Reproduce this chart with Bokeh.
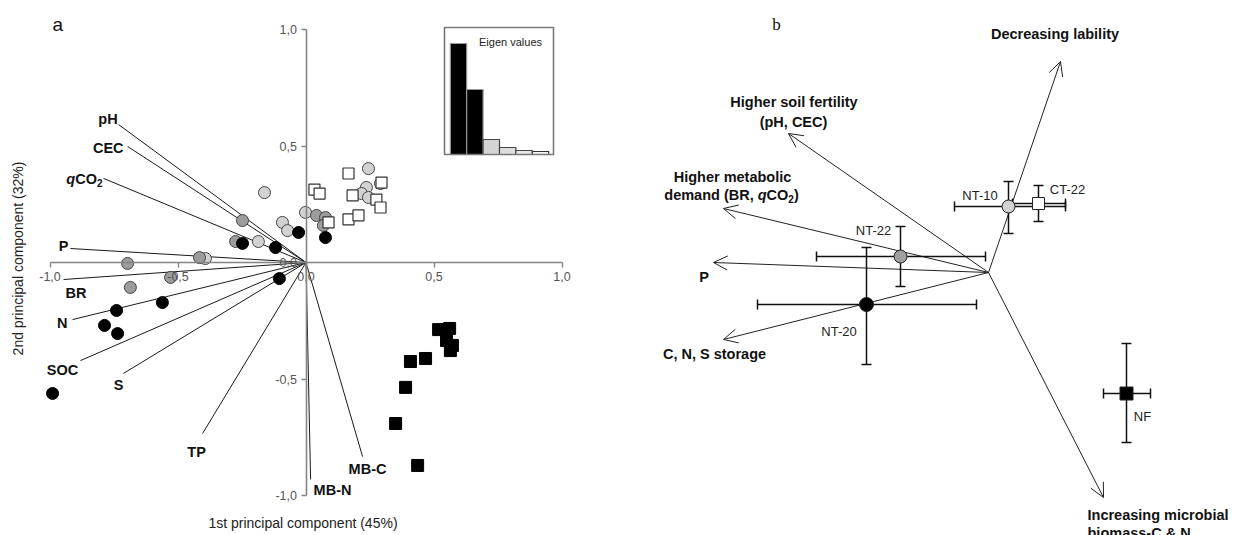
import math
from bokeh.plotting import figure
from bokeh.layouts import row
from bokeh.models import (Range1d, LinearAxis, FixedTicker, ColumnDataSource,
                          Arrow, OpenHead, Whisker, TeeHead)
from bokeh.core.properties import value
from bokeh.embed import file_html
from bokeh.resources import INLINE

# ---------------- Panel a data (PCA loadings and scores) ----------------
vec_names = ["pH", "CEC", "qCO2", "P", "BR", "N", "SOC", "S", "TP", "MB-N", "MB-C"]
vec_x = [-0.732, -0.697, -0.791, -0.920, -0.947, -0.912, -0.881, -0.713, -0.404, 0.018, 0.221]
vec_y = [0.592, 0.498, 0.361, 0.060, -0.073, -0.245, -0.421, -0.476, -0.734, -0.931, -0.833]

black_circ_x = [-0.990, -0.740, -0.787, -0.736, -0.561, -0.104, -0.119, -0.248, -0.029, 0.076]
black_circ_y = [-0.562, -0.206, -0.270, -0.305, -0.172, -0.069, 0.064, 0.082, 0.129, 0.107]

gray_circ_x = [-0.697, -0.686, -0.529, -0.416, -0.248, -0.275, 0.041, 0.076, 0.068]
gray_circ_y = [-0.004, -0.107, -0.064, 0.021, 0.180, 0.090, 0.202, 0.193, 0.159]

light_circ_x = [-0.162, -0.092, -0.072, -0.186, -0.002, -0.393, 0.244, 0.236, 0.217, 0.244, 0.291]
light_circ_y = [0.300, 0.172, 0.137, 0.090, 0.215, 0.017, 0.403, 0.322, 0.296, 0.279, 0.339]

white_sq_x = [0.166, 0.033, 0.053, 0.182, 0.295, 0.275, 0.291, 0.166, 0.205, 0.088]
white_sq_y = [0.382, 0.313, 0.296, 0.288, 0.343, 0.270, 0.236, 0.185, 0.202, 0.172]

black_sq_x = [0.518, 0.561, 0.549, 0.572, 0.564, 0.408, 0.467, 0.389, 0.350, 0.436]
black_sq_y = [-0.288, -0.283, -0.335, -0.356, -0.378, -0.425, -0.412, -0.536, -0.691, -0.871]

eig_index = [1, 2, 3, 4, 5, 6]
eig_values = [5.55, 3.25, 0.75, 0.35, 0.20, 0.15]

tick_vals = [-1.0, -0.5, 0.0, 0.5, 1.0]
tick_labels = ["-1,0", "-0,5", "0,0", "0,5", "1,0"]

# ---------------- Panel b data ----------------
arrow_names = ["Decreasing lability", "Increasing microbial", "Higher soil fertility",
               "Higher metabolic", "P", "C, N, S storage"]
arrow_x = [0.360, 0.575, -1.000, -1.325, -1.375, -1.325]
arrow_y = [1.055, -1.125, 0.695, 0.320, 0.050, -0.335]

treat_names = ["NT-22", "NT-20", "NT-10", "CT-22", "NF"]
treat_x = [-0.44, -0.61, 0.10, 0.25, 0.69]
treat_y = [0.08, -0.16, 0.33, 0.345, -0.605]
treat_xlo = [-0.86, -1.155, -0.17, 0.12, 0.575]
treat_xhi = [-0.015, -0.06, 0.385, 0.385, 0.81]
treat_ylo = [-0.07, -0.46, 0.195, 0.255, -0.85]
treat_yhi = [0.23, 0.125, 0.455, 0.435, -0.355]

# ---------------- styling / layout ----------------
FONT = "Liberation Sans"
INK = "#111111"
H = 535
A_W = 648
B_W = 591
PAGE0 = 0
# panel a mapping (page pixels)
AX0, AY0, ASX, ASY = 305.5, 262.0, 256.0, 233.0
# panel b mapping
BX0, BY0, BS = 988.0, 272.0, 200.0

BOLD_W = {' ': 278, '(': 333, ')': 333, ',': 278, 'B': 722, 'R': 722, 'C': 722,
          'O': 778, 'a': 556, 'd': 611, 'e': 556, 'm': 889, 'n': 611, 'q': 611, '2': 556}


def text_width(s, size):
    return sum(BOLD_W.get(c, 556) for c in s) * size / 1000.0


def draw_runs(p, x, y, x_off, y_off, runs):
    off = x_off
    for t, style, size, dy in runs:
        p.text(x=[x], y=[y], text=[t], x_offset=off, y_offset=y_off + dy,
               text_align="left", text_baseline="middle", text_font=value(FONT),
               text_font_style=style, text_font_size=f"{size}px", text_color=INK)
        off += text_width(t, size)


# ================= Panel a =================
pa = figure(width=A_W, height=H, title=None,
            x_range=Range1d((PAGE0 - AX0) / ASX, (PAGE0 + A_W - AX0) / ASX),
            y_range=Range1d((AY0 - (PAGE0 + H)) / ASY, (AY0 - PAGE0) / ASY),
            x_axis_type=None, y_axis_type=None, toolbar_location=None,
            output_backend="svg", min_border=0, outline_line_color=None)
pa.grid.visible = False

overrides = {v: l for v, l in zip(tick_vals, tick_labels)}
for side, loc in (("below", 0), ("left", 0)):
    ax = LinearAxis(fixed_location=loc, bounds=(-1, 1),
                    ticker=FixedTicker(ticks=tick_vals, minor_ticks=[]),
                    major_label_overrides=overrides,
                    axis_line_color="#858585", axis_line_width=1.6,
                    major_tick_line_color="#858585", major_tick_line_width=1.4,
                    major_tick_out=5, major_tick_in=0, minor_tick_out=0,
                    major_label_standoff=4,
                    major_label_text_font=FONT, major_label_text_font_size="12.5px",
                    major_label_text_color="#555555")
    pa.add_layout(ax, side)

# loading vectors
pa.segment(x0=[0] * len(vec_x), y0=[0] * len(vec_y), x1=vec_x, y1=vec_y,
           line_color="#1a1a1a", line_width=1)

# scores
pa.scatter(light_circ_x, light_circ_y, marker="circle", size=12,
           fill_color="#d2d2d2", line_color="#444444", line_width=1)
pa.scatter(gray_circ_x, gray_circ_y, marker="circle", size=12,
           fill_color="#9c9c9c", line_color="#444444", line_width=1)
pa.scatter(white_sq_x, white_sq_y, marker="square", size=11,
           fill_color="white", line_color="#333333", line_width=1.2)
pa.scatter(black_circ_x, black_circ_y, marker="circle", size=12,
           fill_color="black", line_color="black")
pa.scatter(black_sq_x, black_sq_y, marker="square", size=12,
           fill_color="black", line_color="black")

# vector labels
lab_dx = [-1, -4, -37.2, -2, 2, -5, -18, -5, -6, 3, -14]
lab_dy = [-6, 2, 1, -3, 13, 3, 9, 12, 18, 11, 12]
lab_align = ["right", "right", "left", "right", "left", "right", "center",
             "center", "center", "left", "left"]
for name, x, y, dx, dy, al in zip(vec_names, vec_x, vec_y, lab_dx, lab_dy, lab_align):
    if name == "qCO2":
        draw_runs(pa, x, y, dx, dy, [("q", "bold italic", 14.5, 0),
                                     ("CO", "bold", 14.5, 0),
                                     ("2", "bold", 10, 4)])
    else:
        pa.text(x=[x], y=[y], text=[name], x_offset=dx, y_offset=dy,
                text_align=al, text_baseline="middle", text_font=value(FONT),
                text_font_style="bold", text_font_size="14.5px", text_color=INK)

# axis titles and panel letter
pa.text(x=[(302.5 - AX0) / ASX], y=[(AY0 - 522) / ASY], text=["1st principal component (45%)"],
        text_align="center", text_baseline="middle", text_font=value(FONT),
        text_font_size="14px", text_color="#222222")
pa.text(x=[(17 - AX0) / ASX], y=[(AY0 - 258) / ASY], text=["2nd principal component (32%)"],
        angle=math.pi / 2, text_align="center", text_baseline="middle",
        text_font=value(FONT), text_font_size="14px", text_color="#222222")
pa.text(x=[(52 - AX0) / ASX], y=[(AY0 - 24) / ASY], text=["a"], text_align="left",
        text_baseline="alphabetic", text_font=value(FONT), text_font_size="19px",
        text_color=INK)

# inset of eigen values (own scales)
BAR_C0, BAR_W, BASE_Y, UNIT_Y = 458.0, 16.4, 154.0, 20.0
pa.extra_x_ranges = {"ins": Range1d(1 + (PAGE0 - BAR_C0) / BAR_W,
                                    1 + (PAGE0 + A_W - BAR_C0) / BAR_W)}
pa.extra_y_ranges = {"ins": Range1d((BASE_Y - (PAGE0 + H)) / UNIT_Y,
                                    (BASE_Y - PAGE0) / UNIT_Y)}
bar_fill = ["#000000", "#000000", "#d4d4d4", "#dedede", "#e8e8e8", "#f6f6f6"]
bar_line = ["#9a9a9a", "#9a9a9a", "#444444", "#444444", "#444444", "#333333"]
pa.quad(left=[i - 0.5 for i in eig_index], right=[i + 0.5 for i in eig_index],
        bottom=[0] * len(eig_values), top=eig_values, fill_color=bar_fill,
        line_color=bar_line, line_width=1.2, x_range_name="ins", y_range_name="ins")
pa.quad(left=[1 + (444 - BAR_C0) / BAR_W], right=[1 + (553 - BAR_C0) / BAR_W],
        bottom=[0], top=[(BASE_Y - 27) / UNIT_Y], fill_color=None,
        line_color="#777777", line_width=1.6, x_range_name="ins", y_range_name="ins")
pa.text(x=[1 + (510 - BAR_C0) / BAR_W], y=[(BASE_Y - 41) / UNIT_Y], text=["Eigen values"],
        text_align="center", text_baseline="middle", text_font=value(FONT),
        text_font_size="11px", text_color="#222222", x_range_name="ins", y_range_name="ins")

# ================= Panel b =================
b_left = PAGE0 + A_W
pb = figure(width=B_W, height=H, title=None,
            x_range=Range1d((b_left - BX0) / BS, (b_left + B_W - BX0) / BS),
            y_range=Range1d((BY0 - (PAGE0 + H)) / BS, (BY0 - PAGE0) / BS),
            x_axis_type=None, y_axis_type=None, toolbar_location=None,
            output_backend="svg", min_border=0, outline_line_color=None)
pb.grid.visible = False

asrc = ColumnDataSource(dict(x0=[0.0] * len(arrow_x), y0=[0.0] * len(arrow_y),
                             x1=arrow_x, y1=arrow_y))
pb.add_layout(Arrow(source=asrc, x_start="x0", y_start="y0", x_end="x1", y_end="y1",
                    line_color="#222222", line_width=1, level="underlay",
                    end=OpenHead(size=14, line_width=1, line_color="#222222")))

tsrc = ColumnDataSource(dict(x=treat_x, y=treat_y, xlo=treat_xlo, xhi=treat_xhi,
                             ylo=treat_ylo, yhi=treat_yhi))
for base, lo, hi, dim in (("y", "xlo", "xhi", "width"), ("x", "ylo", "yhi", "height")):
    pb.add_layout(Whisker(source=tsrc, base=base, lower=lo, upper=hi, dimension=dim,
                          line_color="#111111", line_width=1.5, level="underlay",
                          lower_head=TeeHead(size=10, line_width=1.5, line_color="#111111"),
                          upper_head=TeeHead(size=10, line_width=1.5, line_color="#111111")))

t_marker = ["circle", "circle", "circle", "square", "square"]
t_fill = ["#a0a0a0", "#000000", "#d2d2d2", "#ffffff", "#000000"]
t_size = [13, 14, 13, 12, 13]
msrc = ColumnDataSource(dict(x=treat_x, y=treat_y, m=t_marker, f=t_fill, s=t_size))
pb.scatter(x="x", y="y", marker="m", fill_color="f", size="s", source=msrc,
           line_color="#222222", line_width=1)

t_dx = [-27, -27.5, -28.5, 29, 16]
t_dy = [-26, 26.5, -11, -14.5, 22.5]
for name, x, y, dx, dy in zip(treat_names, treat_x, treat_y, t_dx, t_dy):
    pb.text(x=[x], y=[y], text=[name], x_offset=dx, y_offset=dy, text_align="center",
            text_baseline="middle", text_font=value(FONT), text_font_size="13px",
            text_color="#222222")

# arrow labels
def blab(x, y, dx, dy, txt, align="center"):
    pb.text(x=[x], y=[y], text=[txt], x_offset=dx, y_offset=dy, text_align=align,
            text_baseline="middle", text_font=value(FONT), text_font_style="bold",
            text_font_size="14.5px", text_color=INK)

blab(arrow_x[0], arrow_y[0], -5.5, -28, "Decreasing lability")
blab(arrow_x[1], arrow_y[1], -16, 17, "Increasing microbial", "left")
blab(arrow_x[1], arrow_y[1], -16, 35, "biomass-C & N", "left")
blab(arrow_x[2], arrow_y[2], 5.5, -32, "Higher soil fertility")
blab(arrow_x[2], arrow_y[2], 5, -12, "(pH, CEC)")
blab(arrow_x[3], arrow_y[3], 9, -32, "Higher metabolic")
draw_runs(pb, arrow_x[3], arrow_y[3], -59.2, -14,
          [("demand (BR, ", "bold", 14.5, 0), ("q", "bold italic", 14.5, 0),
           ("CO", "bold", 14.5, 0), ("2", "bold", 10, 4), (")", "bold", 14.5, 0)])
blab(arrow_x[4], arrow_y[4], -9.5, 14, "P")
blab(arrow_x[5], arrow_y[5], -9, 14, "C, N, S storage")

pb.text(x=[(776 - BX0) / BS], y=[(BY0 - 24) / BS], text=["b"], text_align="center",
        text_baseline="alphabetic", text_font=value("Liberation Serif"),
        text_font_size="17px", text_color=INK)

layout = row(pa, pb)
open("out.html", "w").write(file_html(layout, INLINE))
